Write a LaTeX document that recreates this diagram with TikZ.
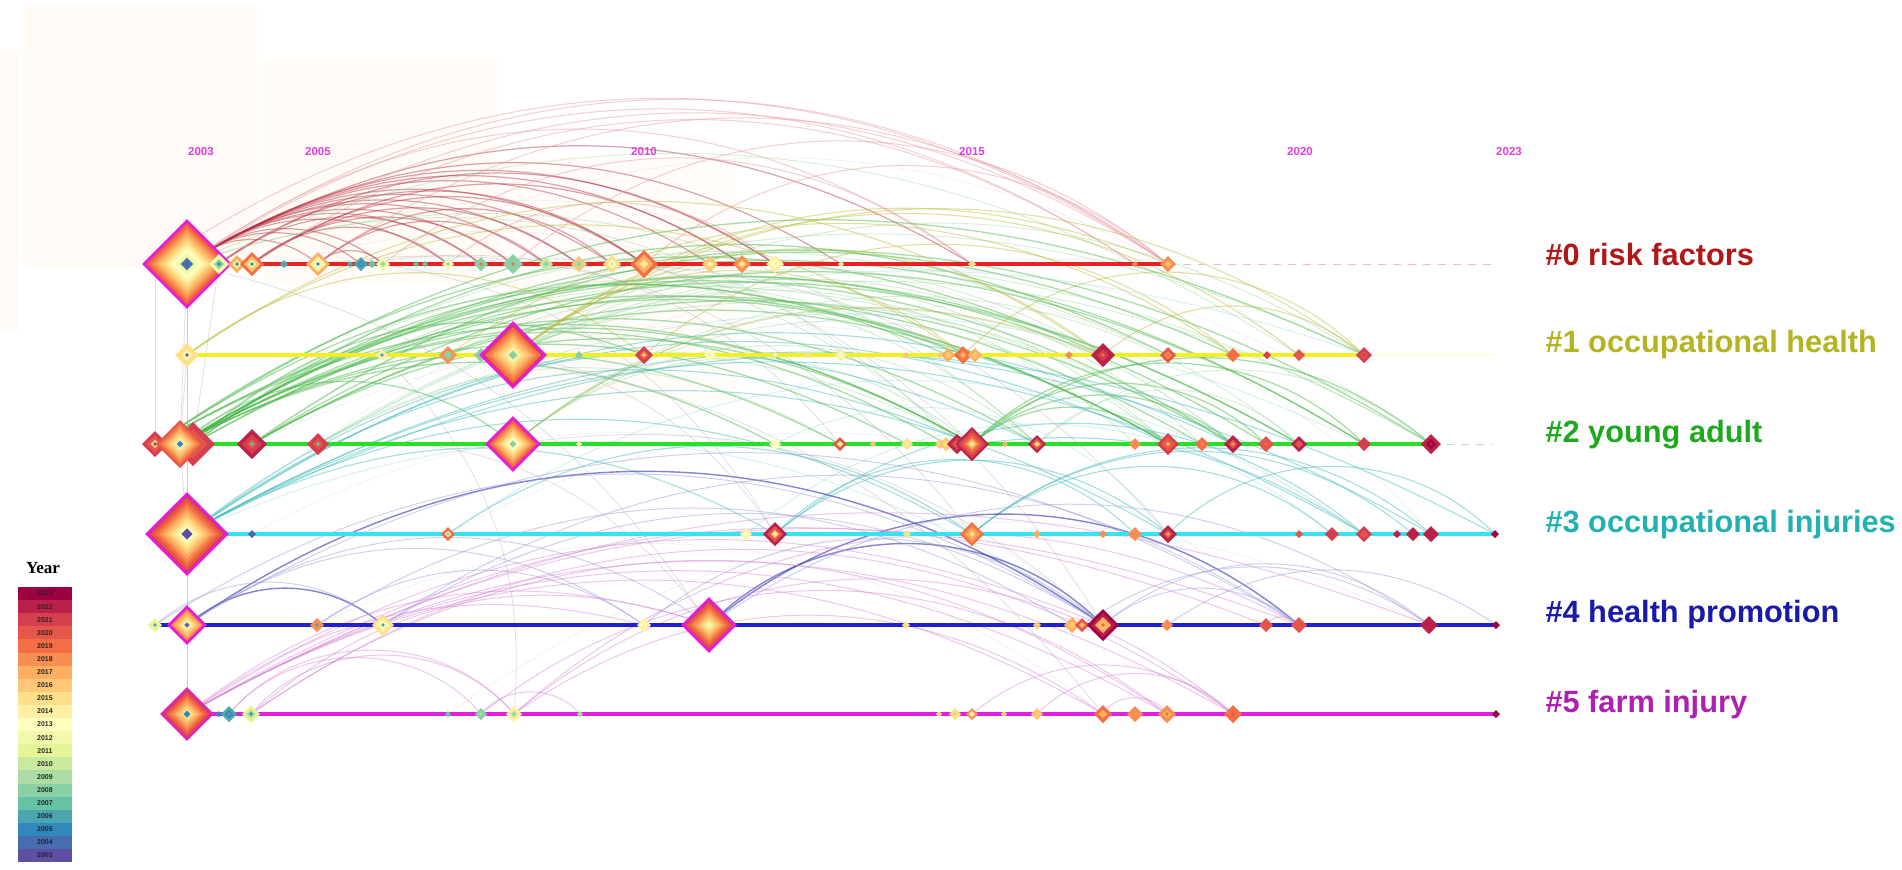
\documentclass[tikz,border=0pt]{standalone}
\usepackage{fontspec}
\setmainfont{Liberation Sans}
\newfontfamily\legserif{Liberation Serif}
\pgfdeclarelayer{bg}
\pgfdeclarelayer{axes}
\pgfsetlayers{bg,axes,main}
\def\U{0.4}
\definecolor{y23}{HTML}{9E0142}
\definecolor{y22}{HTML}{BA2048}
\definecolor{y21}{HTML}{D53E4F}
\definecolor{y20}{HTML}{E5564A}
\definecolor{y19}{HTML}{F46D43}
\definecolor{y18}{HTML}{F98E52}
\definecolor{y17}{HTML}{FDAE61}
\definecolor{y16}{HTML}{FEC776}
\definecolor{y15}{HTML}{FEE08B}
\definecolor{y14}{HTML}{FFF0A5}
\definecolor{y13}{HTML}{FFFFBF}
\definecolor{y12}{HTML}{F3FAAC}
\definecolor{y11}{HTML}{E6F598}
\definecolor{y10}{HTML}{C9E99E}
\definecolor{y09}{HTML}{ABDDA4}
\definecolor{y08}{HTML}{89D0A5}
\definecolor{y07}{HTML}{66C2A5}
\definecolor{y06}{HTML}{4CA5B1}
\definecolor{y05}{HTML}{3288BD}
\definecolor{y04}{HTML}{486CB0}
\definecolor{y03}{HTML}{5E4FA2}
\definecolor{c0}{HTML}{B01818}
\definecolor{c1}{HTML}{B4B422}
\definecolor{c2}{HTML}{1EA81E}
\definecolor{c3}{HTML}{22B0B0}
\definecolor{c4}{HTML}{1A1AA8}
\definecolor{c5}{HTML}{B020B0}
\definecolor{yearlab}{HTML}{E03CE0}
\definecolor{cent}{HTML}{E81CD8}
\definecolor{ax0}{HTML}{E82222}
\definecolor{ax1}{HTML}{F2F020}
\definecolor{ax2}{HTML}{28E028}
\definecolor{ax3}{HTML}{38E2F0}
\definecolor{ax4}{HTML}{2020D0}
\definecolor{ax5}{HTML}{E020E0}
\definecolor{redlk}{HTML}{B23040}
% diamond node: name, x, y, r, rings (outside->inside), centre colour, border colour
\newcommand\cn[7]{%
  \coordinate (#1) at (#2,#3);
  \foreach \cc [count=\ii] in {#5} {\xdef\nr{\ii}}
  \foreach \cc [count=\ii] in {#5} {
    \pgfmathsetmacro\rr{#4*(\nr-\ii+1)/\nr}
    \fill[\cc] (#2-\rr,#3) -- (#2,#3-\rr) -- (#2+\rr,#3) -- (#2,#3+\rr) -- cycle;
  }
  \pgfmathsetmacro\rc{max(1.8,0.14*#4)}
  \fill[#6] (#2-\rc,#3) -- (#2,#3-\rc) -- (#2+\rc,#3) -- (#2,#3+\rc) -- cycle;
  \draw[draw=#7, line width=\U*2.6pt, line join=miter] (#2-#4,#3) -- (#2,#3-#4) -- (#2+#4,#3) -- (#2,#3+#4) -- cycle;
}
\begin{document}
\begin{tikzpicture}[x=\U pt,y=-\U pt,
  lab/.style={anchor=west, font=\fontsize{12.3}{14}\selectfont\bfseries, inner sep=0pt},
  ylab/.style={text=yearlab, font=\fontsize{4.6}{5.5}\selectfont\bfseries, inner sep=0pt},
  lkr/.style={draw=redlk, line width=\U*1.2pt, opacity=0.45},
  lkp/.style={draw=y21!50!white, line width=\U*1pt, opacity=0.5},
  lkg/.style={draw=c2!85!white, line width=\U*1.3pt, opacity=0.45},
  lkg2/.style={draw=c2!50!white, line width=\U*1pt, opacity=0.35},
  lky/.style={draw=c1!90!white, line width=\U*1.1pt, opacity=0.45},
  lkc/.style={draw=c3!90!white, line width=\U*1.1pt, opacity=0.45},
  lkc2/.style={draw=c3!50!white, line width=\U*1pt, opacity=0.35},
  lkb/.style={draw=c4!90!white, line width=\U*1.4pt, opacity=0.6},
  lkl/.style={draw=c4!45!white, line width=\U*1pt, opacity=0.45},
  lkm/.style={draw=c5!55!white, line width=\U*1pt, opacity=0.45},
  lkgr/.style={draw=black!35, line width=\U*0.8pt, opacity=0.35},
  lkf/.style={draw=black!30, line width=\U*0.7pt, opacity=0.18},
  axs/.style={line width=\U*3.4pt},
]
\useasboundingbox (0,0) rectangle (1902,869);
% ---------- nodes, row 0 ----------
\cn{a00}{155}{264}{13}{y13,y17,y11}{y04}{none}
\cn{a01}{187}{264}{43}{y20,y19,y18,y17,y16,y15,y14,y13,y12,y11,y10}{y04}{cent}
\cn{a02}{219}{264}{10}{y12,y08}{y05}{none}
\cn{a03}{237}{264}{9}{y17,y11}{y05}{none}
\cn{a04}{252}{264}{12}{y19,y16,y12}{y05}{none}
\cn{a05}{284}{264}{4}{y06}{y06}{none}
\cn{a06}{318}{264}{12}{y17,y14,y12}{y05}{none}
\cn{a07}{350}{264}{3}{y06}{y06}{none}
\cn{a08}{361}{264}{7}{y06,y05}{y06}{none}
\cn{a09}{372}{264}{4}{y07}{y07}{none}
\cn{a10}{383}{264}{7}{y12,y10}{y08}{none}
\cn{a11}{416}{264}{3}{y07}{y07}{none}
\cn{a12}{425}{264}{3}{y07}{y07}{none}
\cn{a13}{448}{264}{6}{y12,y13}{y08}{none}
\cn{a14}{481}{264}{7}{y08}{y19}{none}
\cn{a15}{513}{264}{10}{y08}{y19}{none}
\cn{a16}{546}{264}{7}{y10,y09}{y08}{none}
\cn{a17}{579}{264}{8}{y16,y09}{y08}{none}
\cn{a18}{612}{264}{9}{y15,y13}{y10}{none}
\cn{a19}{644}{264}{14}{y19,y17,y15}{y11}{none}
\cn{a20}{710}{264}{8}{y16,y15}{y13}{none}
\cn{a21}{742}{264}{9}{y18,y16}{y14}{none}
\cn{a22}{775}{264}{9}{y14,y13}{y12}{none}
\cn{a23}{841}{264}{3}{y14}{y14}{none}
\cn{a24}{972}{264}{4}{y15}{y15}{none}
\cn{a25}{1135}{264}{3}{y18}{y18}{none}
\cn{a26}{1168}{264}{8}{y18,y17}{y16}{none}
\coordinate (a99) at (1493,264);
% ---------- row 1 ----------
\cn{b00}{187}{355}{12}{y15,y14}{y04}{none}
\cn{b01}{382}{355}{6}{y14}{y06}{none}
\cn{b02}{448}{355}{9}{y18,y08}{y08}{none}
\cn{b03}{481}{355}{7}{y08}{y08}{none}
\cn{b04}{513}{355}{32}{y21,y19,y18,y17,y16,y15,y14,y13}{y08}{cent}
\cn{b05}{579}{355}{4}{y08}{y08}{none}
\cn{b06}{644}{355}{9}{y21,y19}{y15}{none}
\cn{b07}{710}{355}{6}{y13,y12}{y12}{none}
\cn{b08}{775}{355}{3}{y14}{y14}{none}
\cn{b09}{808}{355}{3}{y15}{y15}{none}
\cn{b10}{841}{355}{6}{y14,y13}{y13}{none}
\cn{b11}{906}{355}{3}{y16}{y16}{none}
\cn{b12}{940}{355}{3}{y16}{y16}{none}
\cn{b13}{948}{355}{7}{y17,y16}{y16}{none}
\cn{b14}{963}{355}{9}{y19,y18}{y16}{none}
\cn{b15}{975}{355}{7}{y17,y16}{y16}{none}
\cn{b16}{1069}{355}{4}{y18}{y18}{none}
\cn{b17}{1103}{355}{12}{y22,y21}{y19}{none}
\cn{b18}{1168}{355}{8}{y20,y18}{y19}{none}
\cn{b19}{1233}{355}{7}{y19}{y19}{none}
\cn{b20}{1267}{355}{4}{y21}{y21}{none}
\cn{b21}{1299}{355}{6}{y20}{y20}{none}
\cn{b22}{1364}{355}{8}{y21,y20}{y21}{none}
\coordinate (b99) at (1493,355);
% ---------- row 2 ----------
\cn{c00}{155}{444}{13}{y21,y20,y16}{y04}{none}
\cn{c01}{193}{444}{22}{y21,y20,y19}{y19}{none}
\cn{c02}{180}{444}{24}{y20,y19,y18,y17,y16,y15,y14,y13}{y05}{none}
\cn{c03}{252}{444}{15}{y22,y21,y20}{y07}{none}
\cn{c04}{318}{444}{11}{y21,y20}{y07}{none}
\cn{c06}{513}{444}{26}{y20,y19,y18,y17,y16,y15,y14,y13,y12}{y08}{cent}
\cn{c07}{579}{444}{3}{y13}{y13}{none}
\cn{c08}{775}{444}{6}{y13,y12}{y12}{none}
\cn{c09}{840}{444}{7}{y20,y16}{y14}{none}
\cn{c10}{873}{444}{3}{y16}{y16}{none}
\cn{c11}{907}{444}{6}{y15,y14}{y14}{none}
\cn{c12}{940}{444}{5}{y16,y15}{y15}{none}
\cn{c13}{946}{444}{7}{y16,y15}{y15}{none}
\cn{c14}{957}{444}{10}{y22,y21,y19}{y17}{none}
\cn{c15}{972}{444}{17}{y22,y21,y20,y19,y17,y16}{y14}{none}
\cn{c16}{1005}{444}{3}{y17}{y17}{none}
\cn{c17}{1037}{444}{9}{y22,y20,y16}{y15}{none}
\cn{c18}{1135}{444}{6}{y18}{y18}{none}
\cn{c19}{1168}{444}{11}{y21,y20,y19}{y17}{none}
\cn{c20}{1202}{444}{7}{y19}{y18}{none}
\cn{c21}{1233}{444}{9}{y22,y20}{y18}{none}
\cn{c22}{1266}{444}{8}{y20}{y19}{none}
\cn{c23}{1299}{444}{8}{y22,y20}{y20}{none}
\cn{c24}{1364}{444}{7}{y21}{y21}{none}
\cn{c25}{1431}{444}{10}{y22,y23}{y22}{none}
\coordinate (c99) at (1493,444);
% ---------- row 3 ----------
\cn{d00}{187}{534}{40}{y21,y20,y19,y18,y17,y16,y15,y14,y13,y12}{y03}{cent}
\cn{d01}{252}{534}{4}{y04}{y04}{none}
\cn{d02}{448}{534}{7}{y19,y14}{y08}{none}
\cn{d03}{746}{534}{6}{y14,y13}{y13}{none}
\cn{d04}{775}{534}{12}{y22,y20,y16}{y14}{none}
\cn{d05}{907}{534}{4}{y15}{y15}{none}
\cn{d06}{972}{534}{12}{y19,y18,y17,y16}{y14}{none}
\cn{d07}{1037}{534}{4}{y17}{y17}{none}
\cn{d08}{1103}{534}{4}{y18}{y18}{none}
\cn{d09}{1135}{534}{7}{y18}{y18}{none}
\cn{d10}{1168}{534}{9}{y22,y20}{y17}{none}
\cn{d11}{1299}{534}{4}{y20}{y20}{none}
\cn{d12}{1332}{534}{7}{y21}{y21}{none}
\cn{d13}{1364}{534}{8}{y21,y20}{y20}{none}
\cn{d14}{1397}{534}{4}{y22}{y22}{none}
\cn{d15}{1413}{534}{7}{y22}{y22}{none}
\cn{d16}{1431}{534}{8}{y22}{y22}{none}
\cn{d17}{1495}{534}{4}{y23}{y23}{none}
% ---------- row 4 ----------
\cn{e00}{155}{625}{7}{y11}{y06}{none}
\cn{e01}{187}{625}{18}{y19,y18,y17,y16,y15,y14,y13}{y04}{cent}
\cn{e02}{317}{625}{7}{y18}{y06}{none}
\cn{e03}{383}{625}{11}{y15,y14,y13}{y06}{none}
\cn{e04}{644}{625}{7}{y14,y13}{y12}{none}
\cn{e05}{709}{625}{26}{y21,y20,y19,y18,y17,y16,y15,y14}{y12}{cent}
\cn{e06}{906}{625}{4}{y15}{y15}{none}
\cn{e07}{1037}{625}{4}{y16}{y16}{none}
\cn{e08}{1072}{625}{8}{y17,y16}{y16}{none}
\cn{e09}{1082}{625}{7}{y20,y18}{y16}{none}
\cn{e10}{1103}{625}{16}{y23,y22,y17,y16}{y19}{none}
\cn{e11}{1167}{625}{6}{y18}{y18}{none}
\cn{e12}{1266}{625}{7}{y20}{y20}{none}
\cn{e13}{1299}{625}{8}{y20}{y20}{none}
\cn{e14}{1429}{625}{9}{y22}{y22}{none}
\cn{e15}{1496}{625}{4}{y23}{y23}{none}
% ---------- row 5 ----------
\cn{f00}{187}{714}{25}{y21,y20,y19,y18,y17,y16,y15,y14}{y05}{cent!70!y21}
\cn{f01}{219}{714}{3}{y05}{y05}{none}
\cn{f02}{229}{714}{8}{y06,y05}{y06}{none}
\cn{f03}{251}{714}{9}{y11,y09}{y05}{none}
\cn{f04}{448}{714}{3}{y07}{y07}{none}
\cn{f05}{481}{714}{6}{y08}{y09}{none}
\cn{f06}{514}{714}{8}{y14,y10}{y08}{none}
\cn{f07}{580}{714}{3}{y09}{y09}{none}
\cn{f08}{939}{714}{3}{y15}{y15}{none}
\cn{f09}{955}{714}{6}{y15}{y16}{none}
\cn{f10}{972}{714}{6}{y18,y14}{y14}{none}
\cn{f11}{1004}{714}{3}{y15}{y15}{none}
\cn{f12}{1037}{714}{6}{y16}{y16}{none}
\cn{f13}{1103}{714}{9}{y19,y17}{y17}{none}
\cn{f14}{1135}{714}{8}{y18}{y18}{none}
\cn{f15}{1167}{714}{9}{y18,y17}{y19}{none}
\cn{f16}{1233}{714}{9}{y19}{y20}{none}
\cn{f17}{1496}{714}{4}{y23}{y23}{none}
% ---------- background, links ----------
\begin{pgfonlayer}{bg}
\fill[white] (0,0) rectangle (1902,869);
\fill[orange!4] (24,6) rectangle (257,268);
\fill[orange!3] (264,58) rectangle (497,284);
\fill[orange!2] (497,158) rectangle (736,400);
\fill[orange!3] (0,50) rectangle (18,330);
% red cluster
\foreach \t/\b in {a06/40,a08/38,a10/38,a13/36,a14/36,a15/35,a16/35,a17/34,a18/34,a19/34,a20/33,a21/33,a22/33,a23/32,a24/31}
  \draw[lkr] (a01) to[bend left=\b] (\t);
\foreach \t/\b in {a13/40,a15/38,a17/36,a19/36,a21/34}
  \draw[lkr] (a04) to[bend left=\b] (\t);
\foreach \t/\b in {a14/38,a19/36,a22/34}
  \draw[lkr] (a02) to[bend left=\b] (\t);
\foreach \t/\b in {a10/45,a16/40,a18/40}
  \draw[lkr] (a06) to[bend left=\b] (\t);
\foreach \t/\b in {a26/35,a25/34,a24/36}
  \draw[lkp] (a01) to[bend left=\b] (\t);
\foreach \s/\t/\b in {a00/a26/34,a19/a26/40,a13/a22/40,a02/a26/33,a04/a25/34,a06/a26/36,a10/a24/38,a15/a26/40}
  \draw[lkp] (\s) to[bend left=\b] (\t);
% green cluster
\foreach \t/\b in {c08/28,c09/28,c11/28,c13/30,c15/30,c17/30,c19/30,c21/32,c22/32,c24/32,c25/32,c06/40}
  \draw[lkg] (c02) to[bend left=\b] (\t);
\foreach \t/\b in {c15/30,c19/30,b14/28,b17/30,b22/30,c23/30}
  \draw[lkg] (c00) to[bend left=\b] (\t);
\foreach \t/\b in {b06/32,b13/30,b18/32,c23/30,c20/30}
  \draw[lkg] (c01) to[bend left=\b] (\t);
\foreach \t/\b in {c15/30,c19/30,c21/30,c24/32,b19/30}
  \draw[lkg] (c03) to[bend left=\b] (\t);
\foreach \t/\b in {c09/30,c15/28,c25/30}
  \draw[lkg2] (c04) to[bend left=\b] (\t);
\foreach \t/\b in {c15/40,c17/40,c19/40,c21/40,c23/40}
  \draw[lkg2] (c06) to[bend left=\b] (\t);
\foreach \t/\b in {c19/40,c21/40,c24/45,c25/40,c22/45}
  \draw[lkg] (c15) to[bend left=\b] (\t);
\foreach \t/\b in {c25/40,c23/45}
  \draw[lkg2] (c17) to[bend left=\b] (\t);
\foreach \t/\b in {b17/30,b22/32,c18/35,c20/35}
  \draw[lkg2] (b04) to[bend left=\b] (\t);
\foreach \t/\b in {c14/32,c17/30,b21/28}
  \draw[lkg2] (a01) to[bend left=\b] (\t);
\foreach \s/\t/\b in {c02/b14/30,c02/b18/30,c00/c21/30,c01/c25/30,c03/b22/30,c04/c21/32,b03/c19/35,b02/c17/35}
  \draw[lkg2] (\s) to[bend left=\b] (\t);
% olive cluster
\foreach \t/\b in {b06/38,b14/35,b17/35}
  \draw[lky] (b00) to[bend left=\b] (\t);
\foreach \t/\b in {b14/40,b17/38,b22/36,b21/38,a26/30}
  \draw[lky] (b04) to[bend left=\b] (\t);
\draw[lky] (b02) to[bend left=35] (b19);
\draw[lky] (c06) to[bend left=30] (b17);
\draw[lky] (b06) to[bend left=40] (b19);
\draw[lky] (b14) to[bend left=45] (b22);
\draw[lky] (b17) to[bend left=40] (b22);
% teal cluster
\foreach \t/\b in {c15/30,c17/32,c19/30,d04/30,d06/30,d10/30,d13/30,d16/30,d17/28,c21/30}
  \draw[lkc] (d00) to[bend left=\b] (\t);
\draw[lkc] (d02) to[bend left=35] (d06);
\foreach \t/\b in {d10/40,d13/40,d09/45}
  \draw[lkc] (d04) to[bend left=\b] (\t);
\foreach \t/\b in {d12/40,d16/40,d15/40}
  \draw[lkc] (d06) to[bend left=\b] (\t);
\draw[lkc] (d10) to[bend left=45] (d17);
\draw[lkc] (c15) to[bend left=20] (d13);
\foreach \s/\t/\b in {d00/b22/28,d00/c24/30,d02/d13/35,c08/d10/40,d03/d12/40,d00/e10/30}
  \draw[lkc2] (\s) to[bend left=\b] (\t);
% blue cluster
\draw[lkb] (e01) to[bend left=35] (e10);
\draw[lkb] (e05) to[bend left=45] (e10);
\draw[lkb] (e05) to[bend left=40] (e13);
\draw[lkb] (e01) to[bend left=40] (e03);
\foreach \s/\t/\b in {e01/e04/35,e01/e05/35,e00/e03/40,e02/e04/35,e04/e10/40,e10/e13/40,e10/e14/40,e12/e13/60,e09/e14/35,e05/e14/35,e03/e10/32,e02/e08/32,e11/e15/35,e01/e13/32,e00/e10/33,e03/e13/34}
  \draw[lkl] (\s) to[bend left=\b] (\t);
% purple cluster
\foreach \t/\b in {e04/25,e05/28,f13/30,f15/30,f16/30,e10/28,e13/25,e12/26,e14/25}
  \draw[lkm] (f00) to[bend left=\b] (\t);
\foreach \s/\t/\b in {f03/f06/50,f03/f15/35,f02/f05/50,f02/f06/50,f06/f13/35,f06/f16/40,f13/f15/60,f03/e05/30,f10/f16/40,f12/f16/45,f05/f07/50,f03/f16/35,f06/e13/35,f05/f15/38}
  \draw[lkm] (\s) to[bend left=\b] (\t);
% grey inter-cluster links
\foreach \s/\t in {a01/c02,a01/d00,c02/d00,d00/e01,e01/f00,a00/c00,b00/c02,a01/f00,a02/c01}
  \draw[lkgr] (\s) -- (\t);
\foreach \s/\t/\b in {a06/d06/30,a13/c15/25,a19/e10/20,b04/f13/20,a10/d04/25,c06/e10/25,a08/c09/30,b02/d04/28,c04/e05/30,a01/e05/22,b01/f06/25,a16/d10/25}
  \draw[lkgr] (\s) to[bend left=\b] (\t);
\foreach \s/\t/\b in {a03/b13/30,a05/c13/32,b01/c21/32,c03/d13/30,d01/e10/35,e02/f13/32,c04/b18/30,b05/c25/30,d02/e13/35,a09/b21/33,f04/e14/30,b07/d16/35}
  \draw[lkf] (\s) to[bend left=\b] (\t);
\end{pgfonlayer}
% ---------- timeline axes ----------
\begin{pgfonlayer}{axes}
\draw[axs, draw=ax0] (a00) -- (a26);
\draw[line width=\U*0.9pt, draw=y21!35!white, dashed] (a26) -- (a99);
\draw[axs, draw=ax1] (b00) -- (b22);
\draw[line width=\U*2pt, draw=yellow!15] (b22) -- (b99);
\draw[axs, draw=ax2] (c00) -- (c25);
\draw[line width=\U*0.9pt, draw=c2!30!white, dashed] (c25) -- (c99);
\draw[axs, draw=ax3] (d00) -- (d17);
\draw[axs, draw=ax4] (e00) -- (e15);
\draw[axs, draw=ax5] (f00) -- (f17);
\end{pgfonlayer}
% ---------- year labels ----------
\node[ylab] (yr03) at (201,152) {2003};
\node[ylab] (yr05) at (318,152) {2005};
\node[ylab] (yr10) at (644,152) {2010};
\node[ylab] (yr15) at (972,152) {2015};
\node[ylab] (yr20) at (1300,152) {2020};
\node[ylab] (yr23) at (1509,152) {2023};
% ---------- cluster labels ----------
\node[lab, text=c0] (lab0) at (1545,254) {\#0 risk factors};
\node[lab, text=c1] (lab1) at (1545,345) {\#1 occupational health};
\node[lab, text=c2] (lab2) at (1545,435) {\#2 young adult};
\node[lab, text=c3] (lab3) at (1545,525) {\#3 occupational injuries};
\node[lab, text=c4] (lab4) at (1545,615) {\#4 health promotion};
\node[lab, text=c5] (lab5) at (1545,705) {\#5 farm injury};
% ---------- legend ----------
\node[font=\legserif\bfseries\fontsize{6.8}{8}\selectfont, inner sep=0pt] (legt) at (43,568) {Year};
\foreach \yy [count=\k from 0] in {23,22,21,20,19,18,17,16,15,14,13,12,11,10,09,08,07,06,05,04,03} {
  \fill[y\yy] (18,587+\k*13.1) rectangle (72,587+\k*13.1+13.1);
  \node[font=\fontsize{2.8}{3.2}\selectfont\bfseries, inner sep=0pt, text=black!85] (leg\yy) at (45,587+\k*13.1+6.55) {20\yy};
}
\end{tikzpicture}
\end{document}
